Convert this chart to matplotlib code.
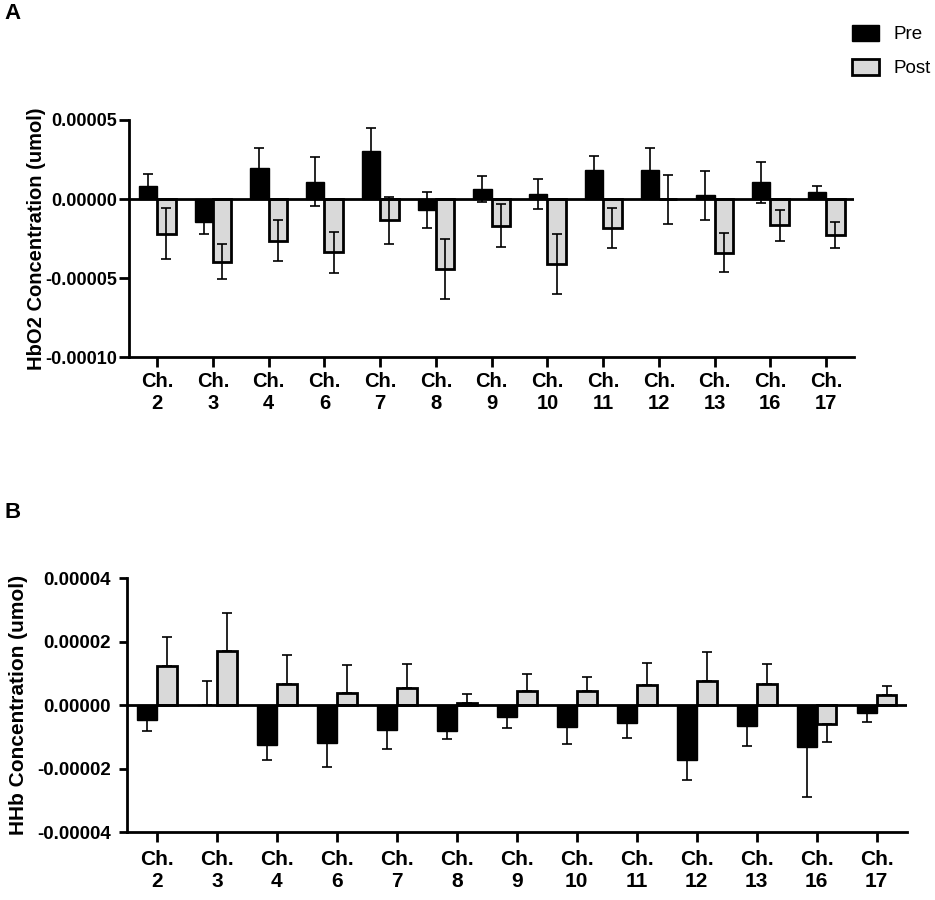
import numpy as np
import matplotlib
matplotlib.use("Agg")
import matplotlib.pyplot as plt
from matplotlib.patches import Patch
from matplotlib.ticker import FuncFormatter

plt.rcParams['font.family'] = ['Liberation Sans', 'DejaVu Sans']

# channel labels
channels = ['2', '3', '4', '6', '7', '8', '9', '10', '11', '12', '13', '16', '17']

# panel A: HbO2 (mean, SE)
hbo2_pre = [0.80e-5, -1.44e-5, 1.96e-5, 1.11e-5, 3.01e-5, -0.68e-5, 0.63e-5,
            0.34e-5, 1.85e-5, 1.81e-5, 0.23e-5, 1.05e-5, 0.46e-5]
hbo2_pre_err = [0.80e-5, 0.74e-5, 1.24e-5, 1.52e-5, 1.50e-5, 1.13e-5, 0.80e-5,
                0.95e-5, 0.85e-5, 1.42e-5, 1.57e-5, 1.28e-5, 0.34e-5]
hbo2_post = [-2.18e-5, -3.97e-5, -2.62e-5, -3.36e-5, -1.35e-5, -4.41e-5, -1.67e-5,
             -4.11e-5, -1.84e-5, -0.02e-5, -3.38e-5, -1.65e-5, -2.28e-5]
hbo2_post_err = [1.60e-5, 1.10e-5, 1.30e-5, 1.30e-5, 1.46e-5, 1.90e-5, 1.35e-5,
                 1.90e-5, 1.25e-5, 1.56e-5, 1.23e-5, 0.97e-5, 0.82e-5]

# panel B: HHb (mean, SE)
hhb_pre = [-0.45e-5, 0.02e-5, -1.24e-5, -1.19e-5, -0.79e-5, -0.81e-5, -0.37e-5,
           -0.68e-5, -0.56e-5, -1.73e-5, -0.64e-5, -1.32e-5, -0.23e-5]
hhb_pre_err = [0.36e-5, 0.76e-5, 0.49e-5, 0.76e-5, 0.57e-5, 0.26e-5, 0.35e-5,
               0.53e-5, 0.47e-5, 0.62e-5, 0.65e-5, 1.57e-5, 0.30e-5]
hhb_post = [1.25e-5, 1.71e-5, 0.66e-5, 0.39e-5, 0.55e-5, 0.07e-5, 0.45e-5,
            0.45e-5, 0.65e-5, 0.78e-5, 0.68e-5, -0.60e-5, 0.32e-5]
hhb_post_err = [0.91e-5, 1.19e-5, 0.92e-5, 0.87e-5, 0.76e-5, 0.28e-5, 0.53e-5,
                0.44e-5, 0.67e-5, 0.90e-5, 0.61e-5, 0.56e-5, 0.30e-5]

POST_GREY = '#d9d9d9'
W = 0.33


def one_sided(vals, errs):
    # error bar only away from zero
    vals = np.array(vals)
    errs = np.array(errs)
    lower = np.where(vals < 0, errs, 0)
    upper = np.where(vals >= 0, errs, 0)
    return [lower, upper]


def draw_panel(ax, pre, pre_err, post, post_err, ylim, yticks, ylabel,
               symmetric, ytick_size, xtick_size, label_size, xpad, ypad, ylen):
    x = np.arange(len(channels))
    ax.bar(x - W / 2, pre, W, color='black', edgecolor='black', linewidth=1.0, zorder=2)
    ax.bar(x + W / 2, post, W, color=POST_GREY, edgecolor='black', linewidth=2.0, zorder=2)
    if symmetric:
        e1, e2 = pre_err, post_err
    else:
        e1, e2 = one_sided(pre, pre_err), one_sided(post, post_err)
    ax.errorbar(x - W / 2, pre, yerr=e1, fmt='none', ecolor='black',
                elinewidth=1.2, capsize=3.6, capthick=1.2, zorder=3)
    ax.errorbar(x + W / 2, post, yerr=e2, fmt='none', ecolor='black',
                elinewidth=1.2, capsize=3.6, capthick=1.2, zorder=3)
    ax.axhline(0, color='black', linewidth=2.0, zorder=4)

    ax.set_xlim(-0.5, 12.5)
    ax.set_ylim(*ylim)
    ax.set_yticks(yticks)
    ax.yaxis.set_major_formatter(FuncFormatter(
        lambda v, p: '0.00000' if abs(v) < 1e-12 else '%.5f' % v))
    ax.set_xticks(x)
    ax.set_xticklabels(['Ch.\n' + c for c in channels])
    for lab in ax.get_xticklabels():
        lab.set_fontweight('bold')
        lab.set_fontsize(xtick_size)
    for lab in ax.get_yticklabels():
        lab.set_fontweight('bold')
        lab.set_fontsize(ytick_size)
    ax.tick_params(axis='x', length=7, width=2, pad=xpad)
    ax.tick_params(axis='y', length=ylen, width=2, pad=ypad)
    ax.set_ylabel(ylabel, fontsize=label_size, fontweight='bold')
    for s in ['top', 'right']:
        ax.spines[s].set_visible(False)
    for s in ['left', 'bottom']:
        ax.spines[s].set_linewidth(2.0)


fig = plt.figure(figsize=(9.35, 9.0), dpi=100)

ax1 = fig.add_axes([0.1383, 0.6030, 0.7751, 0.2637])
draw_panel(ax1, hbo2_pre, hbo2_pre_err, hbo2_post, hbo2_post_err,
           (-0.0001, 0.00005), [-0.0001, -0.00005, 0, 0.00005],
           'HbO2 Concentration (umol)', True, 13, 14.5, 14.5, 3.5, 2, 7)
ax1.yaxis.set_label_coords(-0.115, 0.5)

ax2 = fig.add_axes([0.1358, 0.0752, 0.8339, 0.2822])
draw_panel(ax2, hhb_pre, hhb_pre_err, hhb_post, hhb_post_err,
           (-0.00004, 0.00004), [-0.00004, -0.00002, 0, 0.00002, 0.00004],
           'HHb Concentration (umol)', False, 13.5, 15, 15, 5.5, 5.5, 6)
ax2.yaxis.set_label_coords(-0.127, 0.5)

fig.text(4 / 935, 1 - 3 / 900, 'A', fontsize=16, fontweight='bold', va='top', ha='left')
fig.text(4 / 935, 1 - 502 / 900, 'B', fontsize=16, fontweight='bold', va='top', ha='left')

handles = [Patch(facecolor='black', edgecolor='black', linewidth=1.0, label='Pre'),
           Patch(facecolor=POST_GREY, edgecolor='black', linewidth=2.0, label='Post')]
fig.legend(handles=handles, loc='upper left', bbox_to_anchor=(852 / 935, 1 - 25 / 900),
           frameon=False, fontsize=13.5, handlelength=1.45, handleheight=0.9,
           handletextpad=0.75, labelspacing=0.85, borderpad=0, borderaxespad=0)

fig.savefig('out.png', dpi=100)
